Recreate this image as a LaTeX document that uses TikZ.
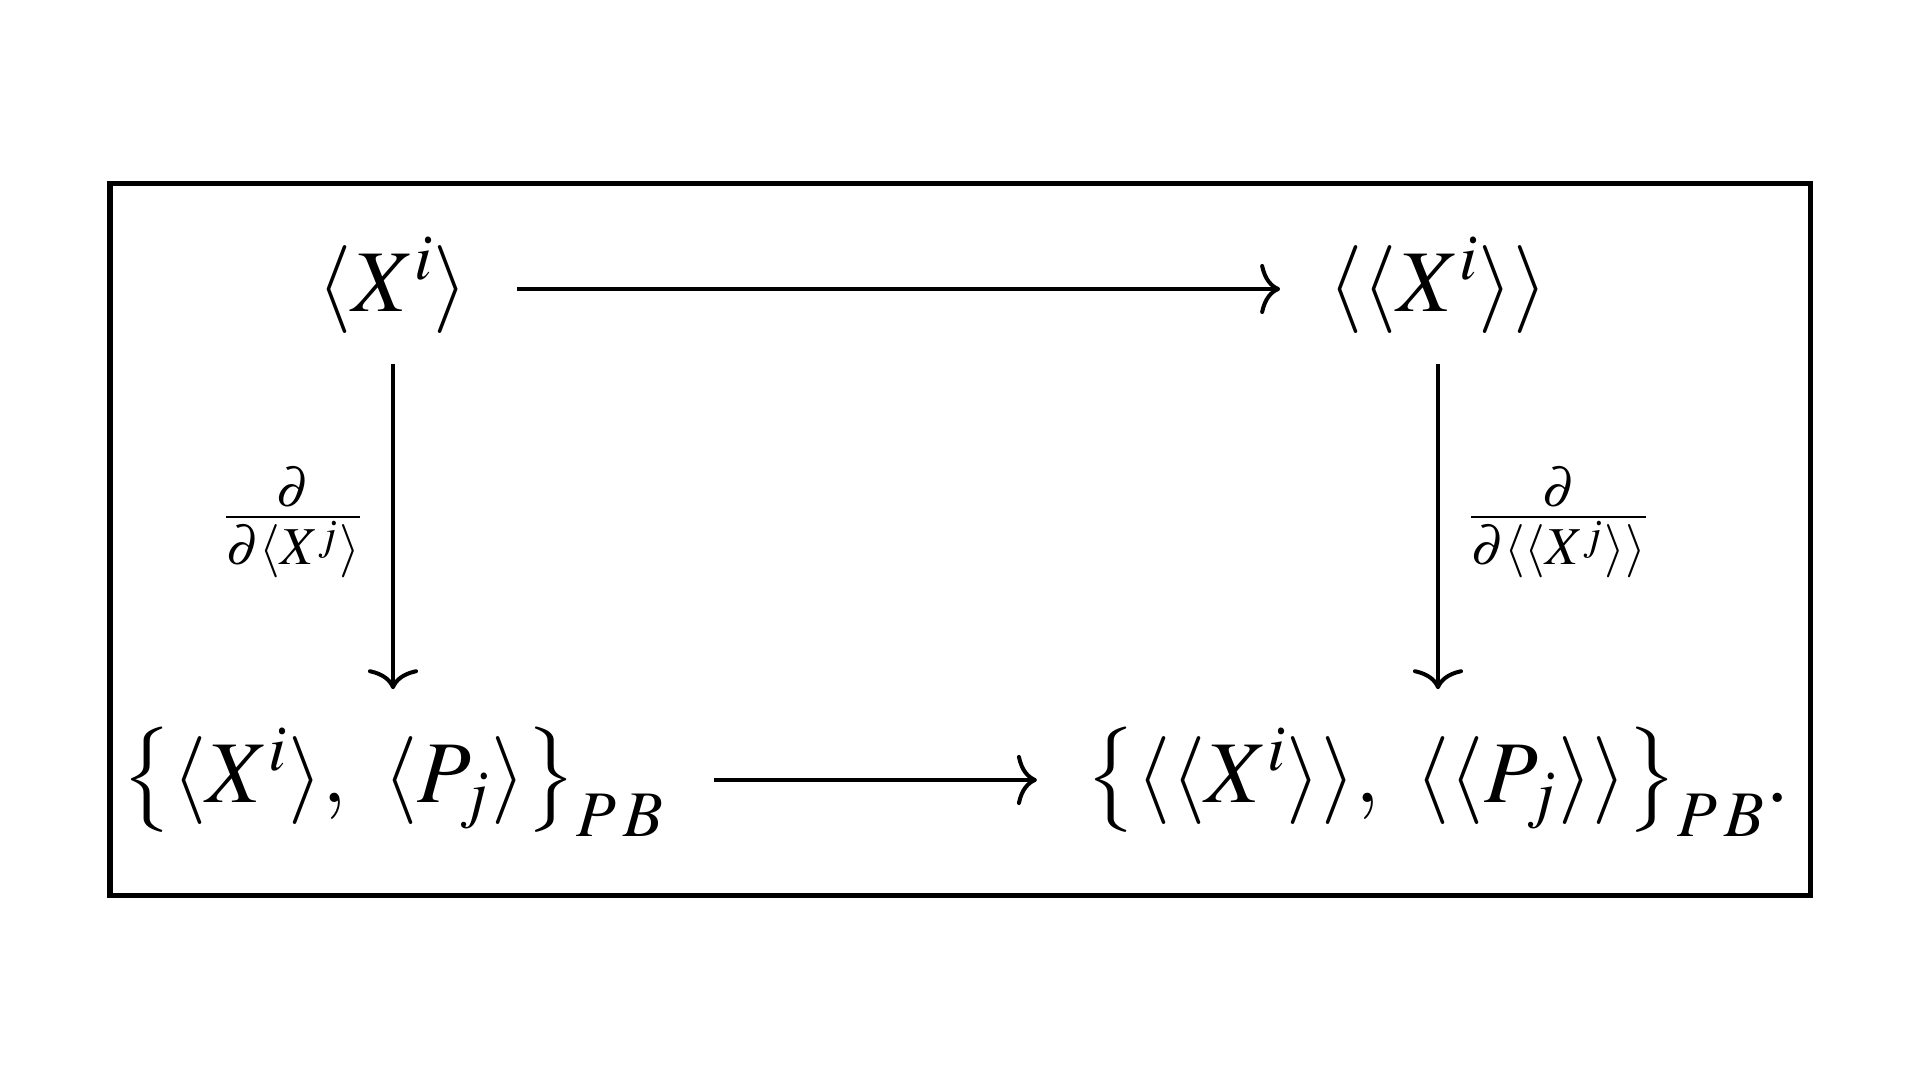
\documentclass[tikz,border=0pt]{standalone}
\usepackage{tikz,color}
\usepackage{mathptmx}
\usetikzlibrary{arrows.meta}

\begin{document}
\begin{tikzpicture}[x=0.01cm,y=-0.01cm,>={To[length=0.2cm,width=0.5cm]},
  obj/.style={inner sep=0pt,font=\fontsize{25}{24}\selectfont},
  toprow/.style={obj,text height=0.48cm,text depth=0.04cm},
  botrow/.style={obj,text height=0.64cm,text depth=0.20cm},
  mapto/.style={->,line width=0.04cm,shorten <=0.48cm,shorten >=0.48cm},
  deriv/.style={inner sep=0pt,font=\fontsize{20.5}{24}\selectfont}]
\useasboundingbox (0,0) rectangle (1920,1080);
\draw [line width=0.05cm] (110,184) rectangle (1810,896);

\node [toprow] (xa) at (393,289) {$\langle X^i\rangle$};
\node [toprow] (xb) at (1438,289) {$\langle\langle X^i\rangle\rangle$};
\node [botrow] (pa) at (393,780) {$\big\{\langle X^i\rangle,\ \langle P_j\rangle\big\}_{P\mkern2mu B}$};
\node [botrow] (pb) at (1438,780) {$\big\{\langle\langle X^i\rangle\rangle,\ \langle\langle P_j\rangle\rangle\big\}_{P\mkern2mu B}.$};

\draw [mapto] (xa) -- (xb);
\draw [mapto] (pa) -- (pb);
\draw [mapto] (xa) -- (pa) node [deriv,midway,left=0.27cm,yshift=0.04cm] (da) {$\frac{\partial}{\partial\langle X^j\rangle}$};
\draw [mapto] (xb) -- (pb) node [deriv,midway,right=0.27cm,yshift=0.04cm] (db) {$\frac{\partial}{\partial\langle\langle X^j\rangle\rangle}$};

\end{tikzpicture}
\end{document}
